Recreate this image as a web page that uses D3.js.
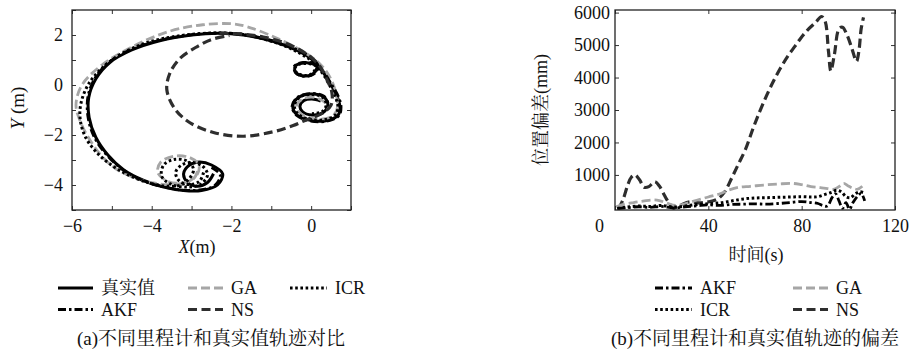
<!DOCTYPE html>
<html>
<head>
<meta charset="utf-8">
<script src="https://cdn.jsdelivr.net/npm/d3@7"></script>
<style>
  body { margin: 0; background: #fff; }
  svg text { font-family: "Liberation Serif", "Noto Serif CJK SC", serif; fill: #111; }
</style>
</head>
<body>
<svg id="chart" width="909" height="354" style="font-family: 'Liberation Serif', 'Noto Serif CJK SC', serif"></svg>
<script>
// ---------- (a) trajectories, [x (m), y (m)] ----------
const trajTruth = [
  [-2.45,-3.55],[-2.6,-3.9],[-2.85,-4.05],[-3.1,-3.9],[-3.2,-3.55],[-3.05,-3.2],[-2.8,-3.08],[-2.5,-3.2],
  [-2.22,-3.55],[-2.35,-4.0],[-2.75,-4.22],[-3.2,-4.22],[-3.7,-4.08],
  [-4.2,-3.82],[-4.7,-3.4],[-5.1,-2.8],[-5.4,-2.1],[-5.57,-1.3],[-5.58,-0.5],[-5.4,0.25],[-5.05,0.9],
  [-4.5,1.4],[-3.8,1.77],[-3.0,2.0],[-2.3,2.07],[-1.7,2.0],[-1.2,1.85],[-0.72,1.62],[-0.3,1.34],
  [0.02,1.02],[0.15,0.75],[0.05,0.45],[-0.15,0.36],[-0.38,0.5],[-0.4,0.75],[-0.2,0.88],[0.08,0.82],
  [0.3,0.5],[0.5,0.0],[0.65,-0.45],[0.72,-0.85],[0.68,-1.2],[0.4,-1.42],[0.0,-1.42],[-0.35,-1.2],
  [-0.46,-0.85],[-0.32,-0.5],[0.0,-0.36],[0.3,-0.46],[0.42,-0.78],[0.3,-1.1],[0.02,-1.2],[-0.22,-1.06],
  [-0.28,-0.84],[-0.18,-0.62],[0.02,-0.56],[0.24,-0.64]
];
const trajGA = [
  [-2.85,-3.45],[-2.95,-3.75],[-3.25,-3.92],[-3.6,-3.85],[-3.85,-3.5],[-3.78,-3.1],[-3.45,-2.85],[-3.05,-2.9],
  [-2.82,-3.2],[-2.85,-3.55],[-3.1,-3.88],[-3.5,-3.98],[-3.95,-3.92],[-4.45,-3.7],[-4.9,-3.35],[-5.25,-2.85],
  [-5.55,-2.2],[-5.78,-1.5],[-5.9,-0.8],[-5.75,0.0],[-5.25,0.8],[-4.4,1.6],[-3.55,2.15],[-2.72,2.41],
  [-2.0,2.45],[-1.6,2.33],[-0.9,1.9],[-0.25,1.38],[0.15,0.95],[0.4,0.5],[0.56,0.0],[0.64,-0.45],
  [0.66,-0.9],[0.56,-1.22],[0.3,-1.36],[-0.05,-1.3],[-0.3,-1.1],[-0.36,-0.8],[-0.2,-0.55],[0.1,-0.5],
  [0.35,-0.7],[0.42,-1.0]
];
const trajICR = [
  [-2.7,-3.5],[-2.8,-3.85],[-3.05,-3.98],[-3.3,-3.85],[-3.4,-3.5],[-3.25,-3.2],[-3.0,-3.1],[-2.72,-3.25],
  [-2.6,-3.6],[-2.78,-3.98],[-3.1,-4.08],[-3.5,-3.98],[-3.75,-3.65],[-3.7,-3.2],[-3.45,-2.98],[-3.1,-3.05],
  [-2.95,-3.4],[-3.2,-3.95],[-3.6,-4.05],[-4.1,-3.9],[-4.8,-3.42],[-5.35,-2.75],[-5.7,-1.95],[-5.8,-1.0],
  [-5.58,0.05],[-5.0,1.0],[-4.2,1.65],[-3.3,1.97],[-2.4,2.08],[-1.7,2.02],[-1.2,1.84],[-0.72,1.6],
  [-0.32,1.3],[-0.02,1.0],[0.12,0.74],[0.02,0.46],[-0.17,0.38],[-0.38,0.52],[-0.38,0.76],[-0.18,0.86],
  [0.08,0.8],[0.28,0.48],[0.46,0.0],[0.6,-0.45],[0.67,-0.85],[0.62,-1.18],[0.36,-1.38],[0.0,-1.38],
  [-0.32,-1.18],[-0.42,-0.84],[-0.3,-0.5],[0.0,-0.38],[0.28,-0.48],[0.38,-0.78],[0.28,-1.06],[0.02,-1.15]
];
const trajAKF = [
  [-2.5,-3.3],[-2.28,-3.6],[-2.42,-4.02],[-2.8,-4.2],[-3.25,-4.2],[-3.75,-4.06],[-4.25,-3.8],[-4.75,-3.36],
  [-5.15,-2.76],[-5.45,-2.06],[-5.6,-1.26],[-5.6,-0.46],[-5.42,0.28],[-5.06,0.93],[-4.5,1.43],[-3.8,1.79],
  [-3.0,2.01],[-2.3,2.08],[-1.7,2.02],[-1.2,1.87],[-0.72,1.64],[-0.28,1.36],[0.05,1.03],[0.18,0.75],
  [0.07,0.44],[-0.14,0.34],[-0.39,0.49],[-0.42,0.76],[-0.2,0.9],[0.1,0.84],[0.32,0.5],[0.52,0.0],
  [0.68,-0.45],[0.75,-0.86],[0.7,-1.22],[0.42,-1.44],[0.0,-1.44],[-0.36,-1.22],[-0.48,-0.85],[-0.33,-0.48],
  [0.0,-0.34],[0.32,-0.45],[0.44,-0.78]
];
const trajNS = [
  [-2.3,2.07],[-1.7,2.03],[-1.2,1.92],[-0.72,1.72],[-0.3,1.42],[0.02,1.08],[0.24,0.7],[0.4,0.2],
  [0.52,-0.3],[0.5,-0.8],[0.26,-1.15],[-0.1,-1.38],[-0.45,-1.62],[-0.95,-1.87],[-1.7,-2.05],[-2.45,-1.9],
  [-3.05,-1.5],[-3.42,-0.95],[-3.62,-0.2],[-3.55,0.45],[-3.3,1.05],[-2.9,1.5],[-2.5,1.82],[-2.05,1.98]
];

// ---------- (b) position error, [time (s), error (mm)] ----------
const errAKF = [
  [1,-40],[5,-10],[10,20],[15,0],[20,30],[25,-20],[30,20],[35,50],[40,80],[45,60],[50,90],[55,100],
  [60,110],[65,100],[70,120],[75,150],[80,180],[84,150],[87,120],[89,60],[91,40],[93,300],[94.5,420],
  [96,200],[97.5,-30],[99,150],[100.5,-60],[102,150],[104,350],[105.5,430],[107,200]
];
const errGA = [
  [0.5,20],[4,100],[8,150],[12,190],[16,230],[19,210],[22,140],[26,60],[30,110],[35,220],[40,320],
  [45,420],[49,540],[53,620],[58,650],[64,690],[70,720],[76,740],[80,700],[84,640],[88,610],[91,580],
  [94,560],[96,640],[98,740],[100,660],[102,590],[104,560],[106,650]
];
const errICR = [
  [1,-30],[5,10],[10,40],[15,30],[20,60],[25,10],[30,40],[35,90],[40,110],[45,140],[50,200],[55,260],
  [60,290],[65,300],[70,310],[75,320],[80,330],[84,320],[87,330],[90,400],[93,470],[95,530],[97,480],
  [99,330],[101,300],[103,420],[105,480],[107,440]
];
const errNS = [
  [1.5,-50],[3.5,250],[5.5,700],[7,930],[8.6,1000],[10.5,850],[12.5,620],[14.5,640],[17,790],[19,660],
  [21,400],[23,150],[25,-20],[28,70],[32,170],[36,140],[40,170],[44,260],[47,480],[50,900],[53,1350],
  [56,1800],[59,2400],[62,2950],[65,3450],[68,3900],[71,4300],[74,4650],[77,4950],[80,5250],[83,5500],
  [86,5700],[88.5,5880],[90,5750],[91.5,4800],[92.5,4200],[94,4700],[96,5500],[97.5,5550],[99.5,5300],
  [101.5,4900],[103.5,4500],[104.5,4800],[105.5,5500],[106.5,5850]
];

// ---------- ticks ----------
const xTicksA = [-6, -5, -4, -3, -2, -1, 0, 1];
const yTicksA = [-5, -4, -3, -2, -1, 0, 1, 2, 3];
const xTicksB = [0, 40, 80, 120];
const yTicksB = [1000, 2000, 3000, 4000, 5000, 6000];

// ---------- line styles ----------
const styles = {
  truth: { stroke: "#000",    width: 3.0, dash: null },
  GA:    { stroke: "#a6a6a6", width: 2.8, dash: "9,4" },
  ICR:   { stroke: "#000",    width: 3.0, dash: "2.6,2.6" },
  AKF:   { stroke: "#000",    width: 2.8, dash: "8,3,2.5,3" },
  NS:    { stroke: "#2e2e2e", width: 3.2, dash: "9,4.5" }
};

const FONT = "'Liberation Serif', 'Noto Serif CJK SC', serif";
const svg = d3.select("#chart");
svg.append("rect").attr("width", 909).attr("height", 354).attr("fill", "#fff");

const minusFmt = d => (d < 0 ? "\u2212" + Math.abs(d) : String(d));

function drawFrame(g, x, y, xt, yt, xLabelFilter, yLabelFilter) {
  const [x0, x1] = x.range(), [y0, y1] = y.range();
  const tick = 4;
  const gb = g.append("g").attr("transform", `translate(0,${y0})`)
    .call(d3.axisBottom(x).tickValues(xt).tickSizeInner(-tick).tickSizeOuter(0).tickPadding(9)
      .tickFormat(d => xLabelFilter(d) ? minusFmt(d) : ""));
  const gt = g.append("g").attr("transform", `translate(0,${y1})`)
    .call(d3.axisTop(x).tickValues(xt).tickSizeInner(-tick).tickSizeOuter(0).tickFormat(""));
  const gl = g.append("g").attr("transform", `translate(${x0},0)`)
    .call(d3.axisLeft(y).tickValues(yt).tickSizeInner(-tick).tickSizeOuter(0).tickPadding(9)
      .tickFormat(d => yLabelFilter(d) ? minusFmt(d) : ""));
  const gr = g.append("g").attr("transform", `translate(${x1},0)`)
    .call(d3.axisRight(y).tickValues(yt).tickSizeInner(-tick).tickSizeOuter(0).tickFormat(""));
  [gb, gt, gl, gr].forEach(a => {
    a.select(".domain").remove();
    a.attr("font-size", null).attr("font-family", FONT);
    a.selectAll(".tick line").attr("stroke", "#333").attr("stroke-width", 1);
    a.selectAll(".tick text").style("font-size", "18px").style("font-family", FONT).attr("fill", "#111");
  });
  g.append("rect").attr("x", x0).attr("y", y1).attr("width", x1 - x0).attr("height", y0 - y1)
    .attr("fill", "none").attr("stroke", "#222").attr("stroke-width", 1.3);
  return { gb, gl };
}

function drawSeries(g, data, sx, sy, st, clipId) {
  const line = d3.line().x(d => sx(d[0])).y(d => sy(d[1])).curve(d3.curveCatmullRom.alpha(0.5));
  g.append("path").datum(data).attr("d", line)
    .attr("clip-path", `url(#${clipId})`)
    .attr("fill", "none").attr("stroke", st.stroke).attr("stroke-width", st.width)
    .attr("stroke-dasharray", st.dash).attr("stroke-linejoin", "round");
}

function addClip(id, x, y) {
  const [x0, x1] = x.range(), [y0, y1] = y.range();
  svg.append("defs").append("clipPath").attr("id", id).append("rect")
    .attr("x", x0).attr("y", y1).attr("width", x1 - x0).attr("height", y0 - y1);
}

function label(g, x, y, size, txt) {
  return g.append("text").attr("x", x).attr("y", y).style("font-family", FONT).style("font-size", size + "px").text(txt);
}

function legendItem(g, x, yMid, st, txt, sampleW) {
  g.append("line").attr("x1", x).attr("x2", x + sampleW).attr("y1", yMid).attr("y2", yMid)
    .attr("stroke", st.stroke).attr("stroke-width", st.width).attr("stroke-dasharray", st.dash);
  label(g, x + sampleW + 8, yMid + 6, 18, txt);
}

// ---------- panel (a) ----------
const xA = d3.scaleLinear().domain([-6, 1]).range([72, 351]);
const yA = d3.scaleLinear().domain([-5, 3]).range([210, 10]);
addClip("clipA", xA, yA);
const gA = svg.append("g");
drawSeries(gA, trajTruth, xA, yA, styles.truth, "clipA");
drawSeries(gA, trajGA, xA, yA, styles.GA, "clipA");
drawSeries(gA, trajICR, xA, yA, styles.ICR, "clipA");
drawSeries(gA, trajAKF, xA, yA, styles.AKF, "clipA");
drawSeries(gA, trajNS, xA, yA, styles.NS, "clipA");
drawFrame(gA, xA, yA, xTicksA, yTicksA, d => d % 2 === 0 && d <= 0, d => d % 2 === 0 && d > -5 && d < 3);

label(gA, 197, 253, 18, null).attr("text-anchor", "middle")
  .call(t => { t.append("tspan").style("font-style", "italic").text("X"); t.append("tspan").text("(m)"); });
gA.append("text").attr("transform", "translate(24,108) rotate(-90)").attr("text-anchor", "middle")
  .style("font-family", FONT).style("font-size", "19px")
  .call(t => { t.append("tspan").style("font-style", "italic").text("Y"); t.append("tspan").text(" (m)"); });

const legA = svg.append("g");
legendItem(legA, 58, 288, styles.truth, "真实值", 35);
legendItem(legA, 188, 288, styles.GA, "GA", 35);
legendItem(legA, 290, 288, styles.ICR, "ICR", 37);
legendItem(legA, 58, 309.5, styles.AKF, "AKF", 35);
legendItem(legA, 188, 309.5, styles.NS, "NS", 35);
label(svg, 211, 345, 19, "(a)不同里程计和真实值轨迹对比").attr("text-anchor", "middle");

// ---------- panel (b) ----------
const xB = d3.scaleLinear().domain([0, 120]).range([615, 895]);
const yB = d3.scaleLinear().domain([-80, 6080]).range([210, 10]);
addClip("clipB", xB, yB);
const gB = svg.append("g");
drawSeries(gB, errNS, xB, yB, styles.NS, "clipB");
drawSeries(gB, errGA, xB, yB, styles.GA, "clipB");
drawSeries(gB, errICR, xB, yB, styles.ICR, "clipB");
drawSeries(gB, errAKF, xB, yB, styles.AKF, "clipB");
const axB = drawFrame(gB, xB, yB, xTicksB, yTicksB, () => true, () => true);
axB.gb.selectAll(".tick text").attr("dx", d => (d === 0 ? -16 : 0));
axB.gl.selectAll(".tick text").attr("dx", 4);

label(gB, 756, 261, 18, "时间(s)").attr("text-anchor", "middle");
gB.append("text").attr("transform", "translate(547,110) rotate(-90)").attr("text-anchor", "middle")
  .style("font-family", FONT).style("font-size", "18px").text("位置偏差(mm)");

const legB = svg.append("g");
legendItem(legB, 655, 288, styles.AKF, "AKF", 37);
legendItem(legB, 793, 288, styles.GA, "GA", 35);
legendItem(legB, 655, 309.5, styles.ICR, "ICR", 37);
legendItem(legB, 793, 309.5, styles.NS, "NS", 35);
label(svg, 755, 345, 19, "(b)不同里程计和真实值轨迹的偏差").attr("text-anchor", "middle");
</script>
</body>
</html>
